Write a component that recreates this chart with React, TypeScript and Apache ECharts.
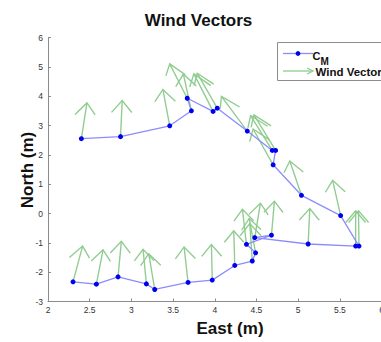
import React, { useEffect, useRef } from "react";
import * as echarts from "echarts";

// Centre-of-mass track (East, North) in metres, in the order it was walked
const cmEast = [
  2.40, 2.87, 3.46, 3.72, 3.67, 3.98, 4.03, 4.39, 4.69, 4.73, 4.70, 5.04, 5.51,
  5.73, 5.69, 5.12, 4.48, 4.68, 4.38, 4.49, 4.45, 4.24, 3.97, 3.68, 3.28, 3.18,
  2.84, 2.58, 2.30,
];
const cmNorth = [
  2.55, 2.62, 2.99, 3.50, 3.93, 3.48, 3.59, 2.81, 2.15, 2.15, 1.66, 0.62, -0.07,
  -1.11, -1.11, -1.04, -0.82, -0.74, -1.05, -1.34, -1.62, -1.77, -2.27, -2.35,
  -2.59, -2.40, -2.16, -2.41, -2.33,
];

// Wind vector components at each track point (East, North)
const windU = [
  0.067, 0.02, -0.082, -0.096, -0.21, -0.23, -0.24, -0.31, -0.26, -0.26, -0.24,
  -0.14, -0.096, -0.006, 0.0, 0.02, 0.068, 0.036, -0.048, -0.077, -0.03, -0.012,
  -0.01, -0.048, -0.072, -0.04, 0.04, 0.08, 0.115,
];
const windV = [
  1.22, 1.23, 1.24, 1.25, 1.17, 1.28, 1.19, 1.18, 1.19, 1.21, 1.22, 1.17, 1.2,
  1.2, 1.2, 1.21, 1.17, 1.16, 1.19, 1.17, 1.28, 1.18, 1.21, 1.21, 1.22, 1.18,
  1.21, 1.17, 1.22,
];

const xMin = 2;
const xMax = 6;
const xStep = 0.5;
const yMin = -3;
const yMax = 6;
const yStep = 1;

const titleText = "Wind Vectors";
const xName = "East (m)";
const yName = "North (m)";
const legendNames = ["C", "M", "Wind Vectors"];

const FONT = "'Liberation Sans', Arial, Helvetica, sans-serif";
const CM_LINE = "#8c8cff";
const CM_DOT = "#0000f0";
const WIND = "#8fcc8f";

export default function App() {
  const ref = useRef<HTMLDivElement>(null);

  useEffect(() => {
    if (!ref.current) return;
    const chart = echarts.init(ref.current, null, { renderer: "svg" });

    const track = cmEast.map((e, i) => [e, cmNorth[i]]);
    const vectors = cmEast.map((e, i) => [e, cmNorth[i], windU[i], windV[i]]);

    const arrowStyle = { stroke: WIND, lineWidth: 1.35, fill: "none" };

    chart.setOption({
      animation: false,
      grid: { left: 48, right: 38.5, top: 37.5, bottom: 40.5 },
      xAxis: {
        type: "value",
        min: xMin,
        max: xMax,
        interval: xStep,
        axisLine: { show: true, onZero: false, lineStyle: { color: "#8c8c8c", width: 1 } },
        axisTick: { show: true, inside: true, length: 3, lineStyle: { color: "#8c8c8c" } },
        splitLine: { show: false },
        axisLabel: { fontSize: 8.5, color: "#333", margin: 4, fontFamily: FONT },
      },
      yAxis: {
        type: "value",
        min: yMin,
        max: yMax,
        interval: yStep,
        axisLine: { show: true, onZero: false, lineStyle: { color: "#8c8c8c", width: 1 } },
        axisTick: { show: true, inside: true, length: 3, lineStyle: { color: "#8c8c8c" } },
        splitLine: { show: false },
        axisLabel: { fontSize: 8.5, color: "#333", margin: 5, fontFamily: FONT },
      },
      series: [
        {
          type: "custom",
          name: "Wind Vectors",
          data: vectors,
          encode: { x: 0, y: 1 },
          z: 2,
          renderItem: (_params: any, api: any) => {
            const x = api.value(0);
            const y = api.value(1);
            const u = api.value(2);
            const v = api.value(3);
            const a = 0.33;
            const b = 0.3;
            const p0 = api.coord([x, y]);
            const tip = api.coord([x + u, y + v]);
            const left = api.coord([x + u - a * (u + b * v), y + v - a * (v - b * u)]);
            const right = api.coord([x + u - a * (u - b * v), y + v - a * (v + b * u)]);
            return {
              type: "group",
              children: [
                {
                  type: "line",
                  shape: { x1: p0[0], y1: p0[1], x2: tip[0], y2: tip[1] },
                  style: arrowStyle,
                },
                {
                  type: "polyline",
                  shape: { points: [left, tip, right] },
                  style: arrowStyle,
                },
              ],
            };
          },
        },
        {
          type: "line",
          name: "CM",
          data: track,
          z: 3,
          symbol: "circle",
          symbolSize: 5,
          showSymbol: true,
          itemStyle: { color: CM_DOT, borderWidth: 0 },
          lineStyle: { color: CM_LINE, width: 1.3 },
        },
      ],
      graphic: [
        {
          type: "text",
          x: 198.5,
          y: 20,
          style: {
            text: titleText,
            font: `bold 17px ${FONT}`,
            fill: "#111",
            align: "center",
            verticalAlign: "middle",
          },
        },
        {
          type: "text",
          x: 230,
          y: 328,
          style: {
            text: xName,
            font: `bold 17px ${FONT}`,
            fill: "#111",
            align: "center",
            verticalAlign: "middle",
          },
        },
        {
          type: "text",
          x: 27,
          y: 170,
          rotation: Math.PI / 2,
          style: {
            text: yName,
            font: `bold 17px ${FONT}`,
            fill: "#111",
            align: "center",
            verticalAlign: "middle",
          },
        },
        // legend box
        {
          type: "rect",
          shape: { x: 277.5, y: 42.5, width: 130, height: 38 },
          style: { fill: "#fff", stroke: "#8c8c8c", lineWidth: 1 },
          z: 10,
        },
        {
          type: "line",
          shape: { x1: 283, y1: 53.5, x2: 313, y2: 53.5 },
          style: { stroke: CM_LINE, lineWidth: 1.3 },
          z: 11,
        },
        {
          type: "circle",
          shape: { cx: 298, cy: 53.5, r: 2.4 },
          style: { fill: CM_DOT },
          z: 12,
        },
        {
          type: "text",
          x: 312.5,
          y: 55.5,
          style: {
            text: legendNames[0],
            font: `bold 11px ${FONT}`,
            fill: "#111",
            verticalAlign: "middle",
          },
          z: 12,
        },
        {
          type: "text",
          x: 320.5,
          y: 61.5,
          style: {
            text: legendNames[1],
            font: `bold 10px ${FONT}`,
            fill: "#111",
            verticalAlign: "middle",
          },
          z: 12,
        },
        {
          type: "line",
          shape: { x1: 283, y1: 71, x2: 313, y2: 71 },
          style: { stroke: WIND, lineWidth: 1.3 },
          z: 11,
        },
        {
          type: "polyline",
          shape: { points: [[307, 68], [313, 71], [307, 74]] },
          style: { stroke: WIND, lineWidth: 1.3, fill: "none" },
          z: 11,
        },
        {
          type: "text",
          x: 315.5,
          y: 71.5,
          style: {
            text: legendNames[2],
            font: `bold 11.5px ${FONT}`,
            fill: "#111",
            verticalAlign: "middle",
          },
          z: 12,
        },
      ],
    });

    return () => chart.dispose();
  }, []);

  return (
    <div
      ref={ref}
      style={{ position: "fixed", left: 0, top: 0, width: 420, height: 342, background: "#fff" }}
    />
  );
}
